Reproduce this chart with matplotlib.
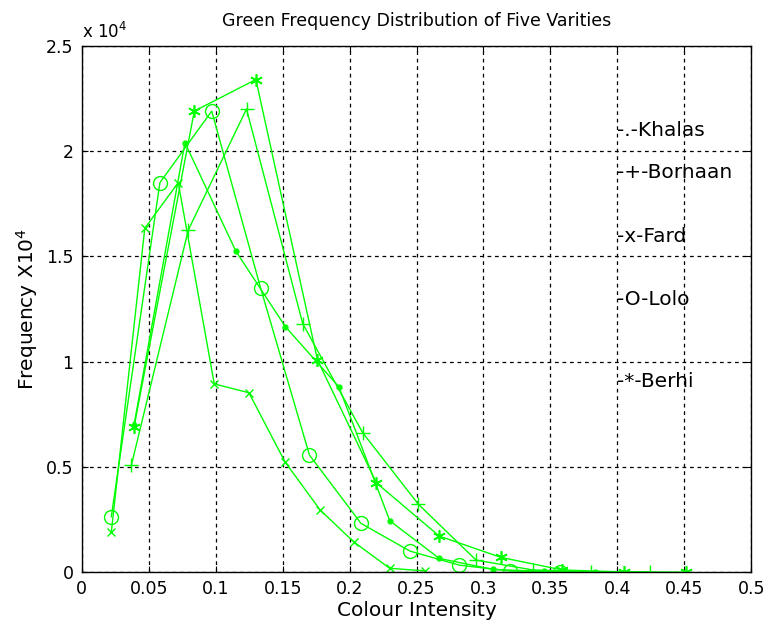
import matplotlib
matplotlib.use('Agg')
import matplotlib.pyplot as plt

### . data (frequency in units of 1e4) ----

khalas_x = [0.039, 0.077, 0.115, 0.152, 0.192, 0.230, 0.267, 0.307, 0.345, 0.383]
khalas_y = [0.70, 2.04, 1.525, 1.166, 0.88, 0.244, 0.065, 0.013, 0.003, 0.0005]

bornaan_x = [0.037, 0.0795, 0.123, 0.165, 0.2098, 0.2514, 0.2945, 0.337, 0.380, 0.4245]
bornaan_y = [0.508, 1.625, 2.20, 1.18, 0.662, 0.322, 0.057, 0.010, 0.002, 0.0]

fard_x = [0.022, 0.047, 0.072, 0.0989, 0.1248, 0.1517, 0.178, 0.203, 0.230, 0.256]
fard_y = [0.19, 1.633, 1.85, 0.894, 0.852, 0.524, 0.295, 0.144, 0.018, 0.006]

lolo_x = [0.022, 0.0583, 0.097, 0.1336, 0.170, 0.2085, 0.245, 0.282, 0.320, 0.357]
lolo_y = [0.263, 1.85, 2.19, 1.348, 0.556, 0.2315, 0.10, 0.033, 0.005, 0.001]

berhi_x = [0.039, 0.084, 0.130, 0.176, 0.220, 0.267, 0.313, 0.359, 0.405, 0.451]
berhi_y = [0.69, 2.19, 2.34, 1.008, 0.424, 0.171, 0.070, 0.010, 0.001, 0.0]

xticks = [0, 0.05, 0.1, 0.15, 0.2, 0.25, 0.3, 0.35, 0.4, 0.45, 0.5]
xtick_labels = ['0', '0.05', '0.1', '0.15', '0.2', '0.25', '0.3', '0.35', '0.4', '0.45', '0.5']
yticks = [0, 0.5, 1, 1.5, 2, 2.5]
ytick_labels = ['0', '0.5', '1', '1.5', '2', '2.5']

labels = ['-.-Khalas', '-+-Bornaan', '-x-Fard', '-O-Lolo', '-*-Berhi']
label_y = [2.10, 1.90, 1.594, 1.293, 0.904]

### . plot ----

plt.rcParams['font.family'] = ['DejaVu Sans']
green = '#00ff00'

fig = plt.figure(figsize=(7.65, 6.28), dpi=100)
ax = fig.add_axes([0.107, 0.089, 0.875, 0.838])

ax.plot(khalas_x, khalas_y, color=green, lw=1, marker='.', ms=7)
ax.plot(bornaan_x, bornaan_y, color=green, lw=1, marker='+', ms=10, mew=1)
ax.plot(fard_x, fard_y, color=green, lw=1, marker='x', ms=6, mew=1)
ax.plot(lolo_x, lolo_y, color=green, lw=1, marker='o', ms=10, mfc='none', mew=1)
ax.plot(berhi_x, berhi_y, color=green, lw=1, marker=(6, 2, 0), ms=9, mew=1.2)

for lab, yy in zip(labels, label_y):
  ax.text(0.4, yy, lab, fontsize=14.5, va='center', ha='left')

ax.set_xlim(0, 0.5)
ax.set_ylim(0, 2.5)
ax.set_xticks(xticks)
ax.set_xticklabels(xtick_labels)
ax.set_yticks(yticks)
ax.set_yticklabels(ytick_labels)
ax.tick_params(direction='in', length=4, labelsize=12.5, top=True, right=True, pad=6)
ax.grid(True, color='black', linestyle=(0, (3, 3)), linewidth=0.9)
for s in ax.spines.values():
  s.set_linewidth(1)

ax.text(0, 1.008, r'x 10$^4$', transform=ax.transAxes, fontsize=12, ha='left', va='bottom')
ax.set_title('Green Frequency Distribution of Five Varities', fontsize=12.5, pad=14)
ax.set_xlabel('Colour Intensity', fontsize=14.5, labelpad=2)
ax.set_ylabel(r'Frequency X10$^4$', fontsize=14.5, labelpad=4)

fig.savefig('out.png', dpi=100)
